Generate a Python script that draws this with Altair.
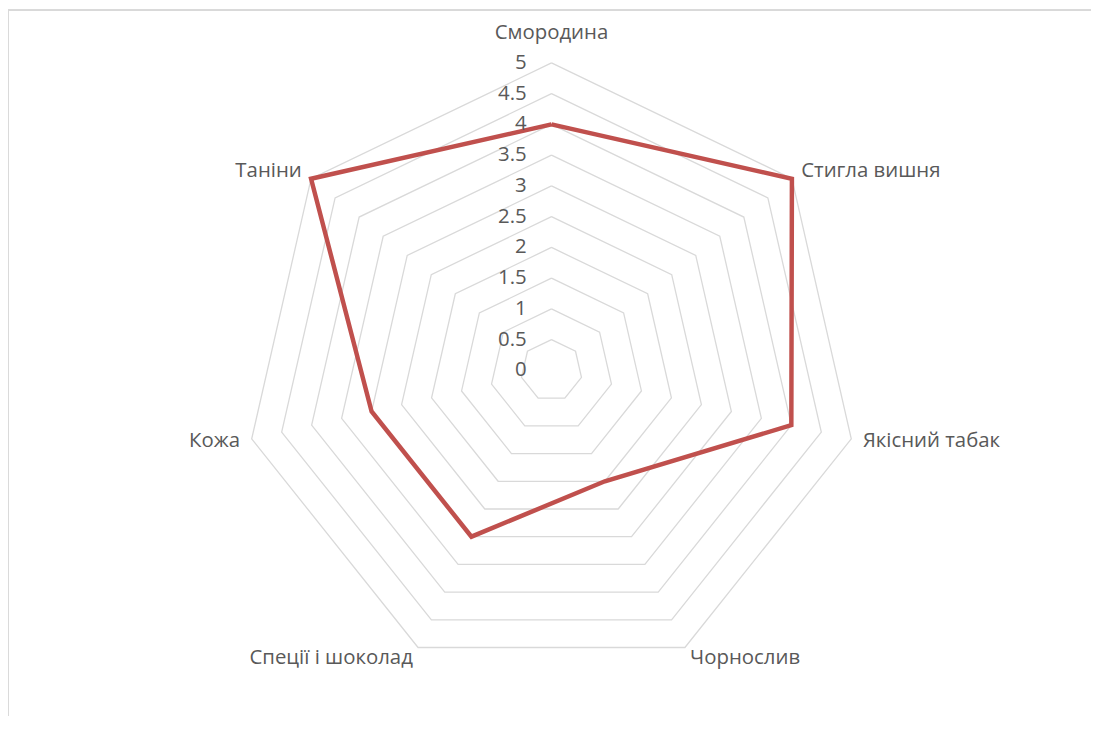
import altair as alt
import pandas as pd

categories = ["Смородина", "Стигла вишня", "Якісний табак", "Чорнослив",
              "Спеції  і шоколад", "Кожа", "Таніни"]
values = [4, 5, 4, 2, 3, 3, 5]
ring_levels = [0.5, 1, 1.5, 2, 2.5, 3, 3.5, 4, 4.5, 5]
tick_values = [0, 0.5, 1, 1.5, 2, 2.5, 3, 3.5, 4, 4.5, 5]
tick_labels = ["0", "0.5", "1", "1.5", "2", "2.5", "3", "3.5", "4", "4.5", "5"]

N = len(categories)
MAXV = 5
FONT = "Open Sans"
FS = 20.5
TXT = "#595959"

# series polygon (closed)
series = pd.DataFrame({
    "cat": categories + [categories[0]],
    "i": list(range(N)) + [N],
    "value": values + [values[0]],
})
# grid rings
grid = pd.DataFrame([{"level": lv, "k": k} for lv in ring_levels for k in range(N + 1)])
ticks = pd.DataFrame({"v": tick_values, "label": tick_labels})
labels = pd.DataFrame({"cat": categories, "i": list(range(N))})

PX = 61.9  # pixels per unit
W, H = 1090, 710
CX, CY = 547, 362.5
xs = alt.Scale(domain=[-CX / PX, (W - CX) / PX], nice=False, zero=False)
ys = alt.Scale(domain=[-(H - CY) / PX, CY / PX], nice=False, zero=False)

def XY(xf, yf):
    return dict(
        x=alt.X(f"{xf}:Q", scale=xs, axis=None),
        y=alt.Y(f"{yf}:Q", scale=ys, axis=None),
    )

ang = f"2*PI*datum.{{}}/{N}"

grid_layer = alt.Chart(grid).transform_calculate(
    gx=f"datum.level*sin({ang.format('k')})",
    gy=f"datum.level*cos({ang.format('k')})",
).mark_line(color="#d9d9d9", strokeWidth=1.3).encode(
    detail="level:N", order="k:Q", **XY("gx", "gy")
)

series_layer = alt.Chart(series).transform_calculate(
    sx=f"datum.value*sin({ang.format('i')})",
    sy=f"datum.value*cos({ang.format('i')})",
).mark_line(color="#c0504d", strokeWidth=4.5, strokeJoin="miter").encode(
    order="i:Q", **XY("sx", "sy")
)

tick_layer = alt.Chart(ticks).transform_calculate(tx="0").mark_text(
    align="right", baseline="middle", dx=-25, font=FONT, fontSize=FS, color=TXT
).encode(text="label:N", **XY("tx", "v"))

LR = MAXV + 12 / PX
lab_base = alt.Chart(labels).transform_calculate(
    lx=f"{LR}*sin({ang.format('i')})",
    ly=f"{LR}*cos({ang.format('i')})",
    s=f"sin({ang.format('i')})",
)
lab_top = lab_base.transform_filter("abs(datum.s) < 0.1").mark_text(
    align="center", baseline="middle", dy=-18, font=FONT, fontSize=FS, color=TXT
).encode(text="cat:N", **XY("lx", "ly"))
lab_right = lab_base.transform_filter("datum.s >= 0.1").mark_text(
    align="left", baseline="middle", font=FONT, fontSize=FS, color=TXT
).encode(text="cat:N", **XY("lx", "ly"))
lab_left = lab_base.transform_filter("datum.s <= -0.1").mark_text(
    align="right", baseline="middle", font=FONT, fontSize=FS, color=TXT
).encode(text="cat:N", **XY("lx", "ly"))

frame_top = alt.Chart(labels).mark_rule(color="#d9d9d9", strokeWidth=1.5).encode(
    x=alt.value(0), x2=alt.value(W), y=alt.value(0)
)
frame_left = alt.Chart(labels).mark_rule(color="#d9d9d9", strokeWidth=1.5).encode(
    x=alt.value(0), y=alt.value(0), y2=alt.value(H)
)

chart = alt.layer(
    frame_top, frame_left, grid_layer, series_layer, tick_layer,
    lab_top, lab_right, lab_left
).properties(
    width=W, height=H, padding=0,
    autosize=alt.AutoSizeParams(type="none"),
).configure_view(stroke=None)

chart.save("out.html", embed_options={"renderer": "svg", "actions": False})
